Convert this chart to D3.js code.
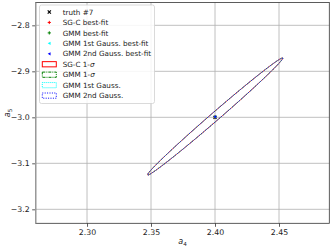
<!DOCTYPE html>
<html><head><meta charset="utf-8">
<script src="https://cdn.jsdelivr.net/npm/d3@7"></script>
<style>body{margin:0;background:#fff}svg{display:block}text{font-family:"DejaVu Sans",sans-serif}</style>
</head><body>
<script>
// ---- data ----
const xTicks = [2.30, 2.35, 2.40, 2.45];
const yTicks = [-3.2, -3.1, -3.0, -2.9, -2.8];
const xDomain = [2.2599, 2.4893];
const yDomain = [-3.2304, -2.7504];
// best-fit points [a4, a5]
const truthPt = [2.400, -3.000];
const sgcPt = [2.400, -2.999];
const gmmPt = [2.400, -2.999];
const gmm1Pt = [2.400, -2.999];
const gmm2Pt = [2.400, -2.999];
// 1-sigma ellipses: centre x, centre y, half extent x, half extent y, correlation
const sgcEll = [2.4001, -2.9982, 0.0528, 0.1272, 0.9955];
const gmmEll = [2.4001, -2.9982, 0.0528, 0.1272, 0.9955];
const gmm1Ell = [2.4001, -2.9982, 0.0528, 0.1272, 0.9955];
const gmm2Ell = [2.4001, -2.9982, 0.0528, 0.1272, 0.9955];
const legendLabels = ["truth #7","SG-C best-fit","GMM best-fit","GMM 1st Gauss. best-fit","GMM 2nd Gauss. best-fit","SG-C 1-σ","GMM 1-σ","GMM 1st Gauss.","GMM 2nd Gauss."];

const W = 332, H = 249;
const m = {l: 35.7, r: 2.7, t: 2.5, b: 25.7};
const svg = d3.select("body").append("svg").attr("width", W).attr("height", H);
const x = d3.scaleLinear().domain(xDomain).range([m.l, W - m.r]);
const y = d3.scaleLinear().domain(yDomain).range([H - m.b, m.t]);

// grid
const g = svg.append("g");
g.selectAll(".gx").data(xTicks).enter().append("line")
  .attr("x1", d => x(d)).attr("x2", d => x(d)).attr("y1", m.t).attr("y2", H - m.b)
  .attr("stroke", "#b0b0b0").attr("stroke-width", 0.8);
g.selectAll(".gy").data(yTicks).enter().append("line")
  .attr("y1", d => y(d)).attr("y2", d => y(d)).attr("x1", m.l).attr("x2", W - m.r)
  .attr("stroke", "#b0b0b0").attr("stroke-width", 0.8);

// axes
const xAxis = d3.axisBottom(x).tickValues(xTicks).tickFormat(d3.format(".2f")).tickSize(3.5).tickPadding(2.5);
const yAxis = d3.axisLeft(y).tickValues(yTicks).tickFormat(d => d3.format(".1f")(d).replace("-", "\u2212")).tickSize(3.5).tickPadding(2.5);
const gx = svg.append("g").attr("transform", `translate(0,${H - m.b})`).call(xAxis);
const gy = svg.append("g").attr("transform", `translate(${m.l},0)`).call(yAxis);
[gx, gy].forEach(a => {
  a.select(".domain").remove();
  a.selectAll("text").attr("font-size", 7.8).attr("fill", "#222").attr("font-family", "DejaVu Sans");
  a.selectAll("line").attr("stroke", "#333").attr("stroke-width", 0.8);
});

// ellipses
function ellPath(e) {
  const [cx, cy, hx, hy, r] = e;
  const ts = d3.range(0, 360.5, 1).map(t => t * Math.PI / 180);
  return d3.line()(ts.map(t => [x(cx + hx * Math.cos(t)), y(cy + hy * (r * Math.cos(t) + Math.sqrt(1 - r * r) * Math.sin(t)))]));
}
const ellStyles = [
  {e: sgcEll, c: "#ff0000", dash: null, w: 0.9, lw: 1},
  {e: gmmEll, c: "#008000", dash: "3,1,1,1", w: 0.5, lw: 1},
  {e: gmm1Ell, c: "#00ffff", dash: "1,1", w: 0.5, lw: 1},
  {e: gmm2Ell, c: "#0000ff", dash: "1,1.4", w: 0.8, lw: 1}
];
ellStyles.forEach(s => {
  svg.append("path").attr("d", ellPath(s.e)).attr("fill", "none").attr("stroke", s.c)
    .attr("stroke-width", s.w).attr("stroke-dasharray", s.dash);
});

// markers
function marker(sel, type, cx, cy, c, sz) {
  const h = sz / 2;
  if (type === "x") {
    sel.append("path").attr("d", `M${cx-h},${cy-h}L${cx+h},${cy+h}M${cx-h},${cy+h}L${cx+h},${cy-h}`).attr("stroke", c).attr("stroke-width", 1.2);
  } else if (type === "+") {
    sel.append("path").attr("d", `M${cx-h},${cy}L${cx+h},${cy}M${cx},${cy-h}L${cx},${cy+h}`).attr("stroke", c).attr("stroke-width", 1);
  } else {
    sel.append("path").attr("d", `M${cx-h},${cy}L${cx+h*0.8},${cy-h}L${cx+h*0.8},${cy+h}Z`).attr("fill", c);
  }
}
const pts = [[truthPt, "x", "#000"], [sgcPt, "+", "#ff0000"], [gmmPt, "+", "#008000"], [gmm1Pt, "<", "#00ffff"], [gmm2Pt, "<", "#0000ff"]];
pts.forEach(p => marker(svg, p[1], x(p[0][0]), y(p[0][1]), p[2], 3));

// spines
svg.append("rect").attr("x", m.l).attr("y", m.t).attr("width", W - m.r - m.l).attr("height", H - m.b - m.t)
  .attr("fill", "none").attr("stroke", "#333").attr("stroke-width", 0.8);
svg.append("line").attr("x1", m.l).attr("x2", m.l).attr("y1", m.t).attr("y2", H - m.b).attr("stroke", "#999").attr("stroke-width", 1.4);

// axis labels
const xl = svg.append("text").attr("x", (m.l + W - m.r) / 2).attr("y", 244).attr("text-anchor", "middle").attr("font-size", 8).attr("fill", "#222");
xl.append("tspan").attr("font-style", "italic").text("a");
xl.append("tspan").attr("font-size", 5.6).attr("dy", 1.8).text("4");
const yl = svg.append("text").attr("transform", `translate(10,${(m.t + H - m.b) / 2}) rotate(-90)`).attr("text-anchor", "middle").attr("font-size", 8).attr("fill", "#222");
yl.append("tspan").attr("font-style", "italic").text("a");
yl.append("tspan").attr("font-size", 5.6).attr("dy", 1.8).text("5");

// legend
const lg = svg.append("g");
lg.append("rect").attr("x", 39.5).attr("y", 5).attr("width", 115).attr("height", 98.5).attr("rx", 2)
  .attr("fill", "#fff").attr("fill-opacity", 0.85).attr("stroke", "#d0d0d0").attr("stroke-width", 0.8);
const rowY = i => 12 + i * 10.45;
legendLabels.forEach((lab, i) => {
  const t = lg.append("text").attr("x", 62.7).attr("y", rowY(i) + 2.6).attr("font-size", 7.2).attr("fill", "#222");
  const sig = lab.indexOf("σ");
  if (sig >= 0) {
    t.append("tspan").text(lab.slice(0, sig));
    t.append("tspan").attr("font-style", "italic").text("σ");
  } else t.text(lab);
});
pts.forEach((p, i) => marker(lg, p[1], 49.3, rowY(i), p[2], 3.2));
ellStyles.forEach((s, i) => {
  lg.append("rect").attr("x", 42.3).attr("y", rowY(i + 5) - 2.6).attr("width", 14).attr("height", 5.2)
    .attr("fill", "none").attr("stroke", s.c).attr("stroke-width", s.lw).attr("stroke-dasharray", s.dash);
});
</script>
</body></html>
